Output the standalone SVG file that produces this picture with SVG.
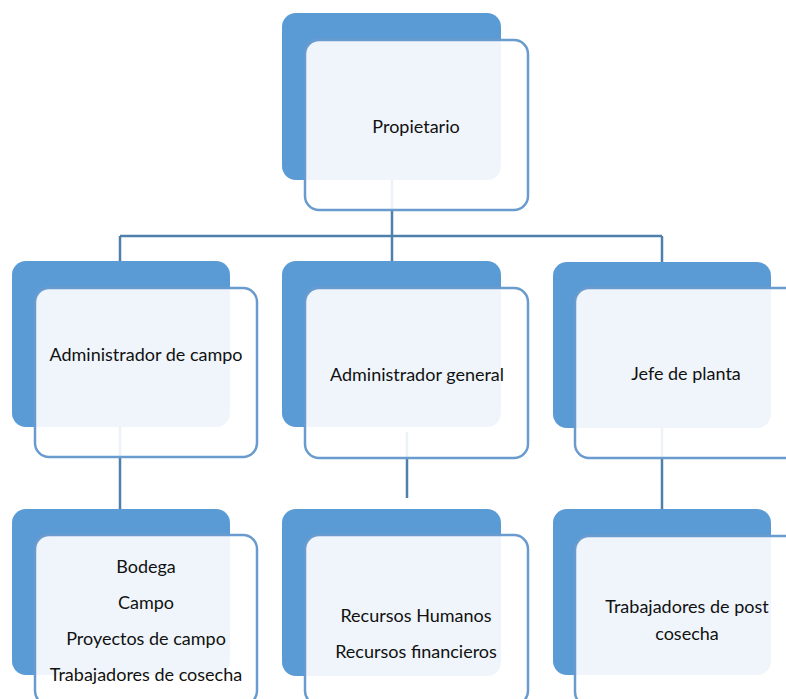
<svg xmlns="http://www.w3.org/2000/svg" width="786" height="699" viewBox="0 0 786 699">
<style>
.back{fill:#5b9bd5;}
.front{fill:#ffffff;fill-opacity:0.9;stroke:#6a9bcf;stroke-width:2.5;}
.con{stroke:#4f7fab;stroke-width:2.5;fill:none;}
.t{font-family:Lato,"Open Sans",sans-serif;font-size:18px;fill:#111;text-anchor:middle;}
</style>
<rect width="786" height="699" fill="#ffffff"/>
<g id="connectors">
<path class="con" d="M392,180 V236 M120,236 H662 M120,236 V262 M392,236 V262 M662,236 V262"/>
<path class="con" d="M120,427 V509 M407,432 V498 M662,428 V509"/>
</g>
<g id="propietario">
<rect class="back" x="282" y="13" width="219" height="167" rx="14"/>
<rect class="front" x="305" y="40" width="223" height="170" rx="14"/>
<text class="t" x="416" y="133">Propietario</text>
</g>
<g id="admin-campo">
<rect class="back" x="12" y="261" width="218" height="166" rx="14"/>
<rect class="front" x="35" y="288" width="222" height="169" rx="14"/>
<text class="t" x="146" y="361">Administrador de campo</text>
</g>
<g id="admin-general">
<rect class="back" x="282" y="261" width="219" height="166" rx="14"/>
<rect class="front" x="305" y="288" width="223" height="170" rx="14"/>
<text class="t" x="417" y="381">Administrador general</text>
</g>
<g id="jefe-planta">
<rect class="back" x="553" y="262" width="218" height="166" rx="14"/>
<rect class="front" x="575" y="288" width="224" height="170" rx="14"/>
<text class="t" x="686" y="380">Jefe de planta</text>
</g>
<g id="campo-items">
<rect class="back" x="12" y="509" width="218" height="166" rx="14"/>
<rect class="front" x="35" y="535" width="222" height="170" rx="14"/>
<text class="t" x="146" y="573">Bodega</text>
<text class="t" x="146" y="609">Campo</text>
<text class="t" x="146" y="645">Proyectos de campo</text>
<text class="t" x="146" y="681">Trabajadores de cosecha</text>
</g>
<g id="general-items">
<rect class="back" x="282" y="509" width="219" height="167" rx="14"/>
<rect class="front" x="305" y="535" width="223" height="170" rx="14"/>
<text class="t" x="416" y="622">Recursos Humanos</text>
<text class="t" x="416" y="658">Recursos financieros</text>
</g>
<g id="planta-items">
<rect class="back" x="553" y="509" width="218" height="166" rx="14"/>
<rect class="front" x="575" y="536" width="224" height="170" rx="14"/>
<text class="t" x="687" y="613">Trabajadores de post</text>
<text class="t" x="687" y="640">cosecha</text>
</g>
</svg>
